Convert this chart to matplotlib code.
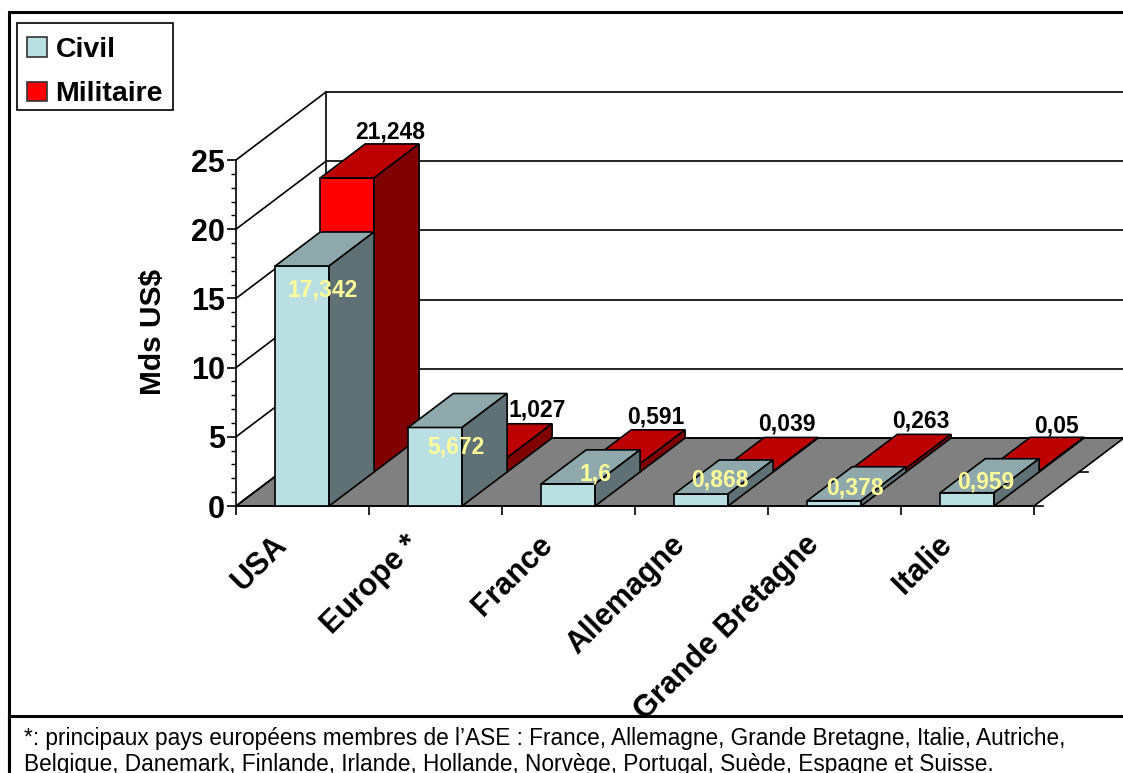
import matplotlib
matplotlib.use("Agg")
from matplotlib import pyplot as plt
from matplotlib.patches import Polygon, Rectangle
from matplotlib.ticker import MultipleLocator

plt.rcParams['font.family'] = ['Liberation Sans', 'DejaVu Sans']

categories = ["USA", "Europe *", "France", "Allemagne", "Grande Bretagne", "Italie"]
civil = [17.342, 5.672, 1.6, 0.868, 0.378, 0.959]
militaire = [21.248, 1.027, 0.591, 0.039, 0.263, 0.05]
civil_labels = ["17,342", "5,672", "1,6", "0,868", "0,378", "0,959"]
militaire_labels = ["21,248", "1,027", "0,591", "0,039", "0,263", "0,05"]
footnote = ["*: principaux pays européens membres de l’ASE : France, Allemagne, Grande Bretagne, Italie, Autriche,",
            "Belgique, Danemark, Finlande, Irlande, Hollande, Norvège, Portugal, Suède, Espagne et Suisse."]

W, H = 1123, 773
# oblique depth of the floor, in category and value units
DEPTH_X = 90 / 133
DEPTH_Y = 68 / 13.84
BAR_LEFT = 0.295
BAR_W = 0.405

CIVIL_COL = ("#b9dfe3", "#8ea8ab", "#5f7175")
MIL_COL = ("#ff0000", "#bd0000", "#800000")

# label nudges in pixels (x, y up)
civil_off = [(20, -24), (21, -20), (27, 10), (19, 14), (21, 13), (19, 11)]
mil_off = [(-2, 12), (12, 14), (-2, 13), (-4, 13), (-3, 13), (-1, 11)]


def fx(px):
    return px / W


def fy(py):
    return 1 - py / H


def proj(x, v, d):
    return (x + d * DEPTH_X, v + d * DEPTH_Y)


def draw_box(ax, x0, x1, d0, d1, v, cols, z):
    # front, side and top faces of one oblique bar
    front = [proj(x0, 0, d0), proj(x1, 0, d0), proj(x1, v, d0), proj(x0, v, d0)]
    side = [proj(x1, 0, d0), proj(x1, 0, d1), proj(x1, v, d1), proj(x1, v, d0)]
    top = [proj(x0, v, d0), proj(x1, v, d0), proj(x1, v, d1), proj(x0, v, d1)]
    for pts, col in zip((front, top, side), cols):
        ax.add_patch(Polygon(pts, closed=True, facecolor=col, edgecolor="black",
                             linewidth=1.2, joinstyle="miter", zorder=z, clip_on=False))


fig = plt.figure(figsize=(W / 100, H / 100), dpi=100)
ax = fig.add_axes([fx(236), fy(506), fx(1034) - fx(236), fy(160) - fy(506)])
ax.set_xlim(0, 6)
ax.set_ylim(0, 25)
ax.patch.set_alpha(0)
for s in ("top", "right"):
    ax.spines[s].set_visible(False)
for s in ("left", "bottom"):
    ax.spines[s].set_linewidth(1.2)

# outer frame, open past the right and bottom edges
fig.add_artist(Rectangle((fx(8.5), -0.05), 1.2, fy(12.5) + 0.05, transform=fig.transFigure,
                         facecolor="none", edgecolor="black", linewidth=2.2))

# walls and floor
ax.add_patch(Polygon([proj(0, 0, 0), proj(6, 0, 0), proj(6, 0, 1), proj(0, 0, 1)], closed=True,
                     facecolor="#808080", edgecolor="black", linewidth=1.2, zorder=1, clip_on=False))
for v in range(0, 30, 5):
    ax.plot([0, DEPTH_X], [v, v + DEPTH_Y], color="black", lw=1.2, clip_on=False, zorder=1)
    ax.plot([DEPTH_X, 6 + DEPTH_X], [v + DEPTH_Y, v + DEPTH_Y], color="black", lw=1.2,
            clip_on=False, zorder=1)
ax.plot([DEPTH_X, DEPTH_X], [DEPTH_Y, 25 + DEPTH_Y], color="black", lw=1.2, clip_on=False, zorder=1)
ax.plot([6, 6.07], [0, 0], color="black", lw=1.2, clip_on=False, zorder=1)
ax.plot([6 + DEPTH_X / 2, 6 + DEPTH_X / 2 + 0.07], [DEPTH_Y / 2, DEPTH_Y / 2], color="black", lw=1.2,
        clip_on=False, zorder=1)

# bars, left to right so that nearer ones cover the ones behind
for i in range(len(categories)):
    x0 = i + BAR_LEFT
    x1 = x0 + BAR_W
    draw_box(ax, x0, x1, 0.5, 1.0, militaire[i], MIL_COL, 3 + i * 0.1)
    draw_box(ax, x0, x1, 0.0, 0.5, civil[i], CIVIL_COL, 3.05 + i * 0.1)

for i in range(len(categories)):
    xm = i + BAR_LEFT + BAR_W / 2
    ax.annotate(militaire_labels[i], proj(xm, militaire[i], 1.0), xytext=mil_off[i],
                textcoords="offset pixels", ha="center", va="center", fontsize=16.5,
                fontweight="bold", color="black", zorder=6, annotation_clip=False)
    ax.annotate(civil_labels[i], proj(xm, civil[i], 0.0), xytext=civil_off[i],
                textcoords="offset pixels", ha="center", va="center", fontsize=16.5,
                fontweight="bold", color="#ffff99", zorder=7, annotation_clip=False)

# axes
ax.yaxis.set_major_locator(MultipleLocator(5))
ax.yaxis.set_minor_locator(MultipleLocator(1))
ax.tick_params(axis="y", which="major", length=6.5, width=1.2, labelsize=22, pad=1.5)
ax.tick_params(axis="y", which="minor", length=3.5, width=1.0)
for t in ax.get_yticklabels():
    t.set_fontweight("bold")
ax.set_ylabel("Mds US$", fontsize=21.5, fontweight="bold")
ax.yaxis.set_label_coords((167 - 236) / 798, (506 - 332) / 346)

ax.set_xticks(range(7))
ax.tick_params(axis="x", which="major", length=6.5, width=1.2, labelbottom=False)
for i, name in enumerate(categories):
    ax.annotate(name, (i + 0.5, 0), xytext=(-31, -24), textcoords="offset pixels",
                rotation=45, rotation_mode="anchor", ha="right", va="top", fontsize=22,
                fontweight="bold", annotation_clip=False, zorder=2)

# legend, with its box drawn separately for the uneven top and bottom margins
ax.add_patch(Rectangle((fx(17), fy(110)), fx(156), fy(23) - fy(110), transform=fig.transFigure,
                       facecolor="white", edgecolor="black", linewidth=1.2, clip_on=False, zorder=8))
handles = [Rectangle((0, 0), 1, 1, facecolor=CIVIL_COL[0], edgecolor="#333333", linewidth=1.2),
           Rectangle((0, 0), 1, 1, facecolor=MIL_COL[0], edgecolor="#333333", linewidth=1.2)]
leg = ax.legend(handles, ["Civil", "Militaire"], loc="upper left",
                bbox_to_anchor=(fx(17), fy(27)), bbox_transform=fig.transFigure, borderaxespad=0,
                prop={"size": 20.5, "weight": "bold"}, frameon=False,
                handlelength=0.7, handleheight=0.7, handletextpad=0.3,
                borderpad=0.35, labelspacing=0.65)
leg.set_zorder(9)

# footnote band hides anything running below the plot area
ax.add_patch(Rectangle((fx(8.5), -0.05), 1.0, fy(716) + 0.05, transform=fig.transFigure, facecolor="white",
                       edgecolor="black", linewidth=2.2, clip_on=False, zorder=10))
for line, py in zip(footnote, (738, 765)):
    ax.text(fx(24), fy(py), line, transform=fig.transFigure, fontsize=16.3, va="center", ha="left",
            color="black", zorder=11, clip_on=False)

fig.savefig("out.png", dpi=100)
